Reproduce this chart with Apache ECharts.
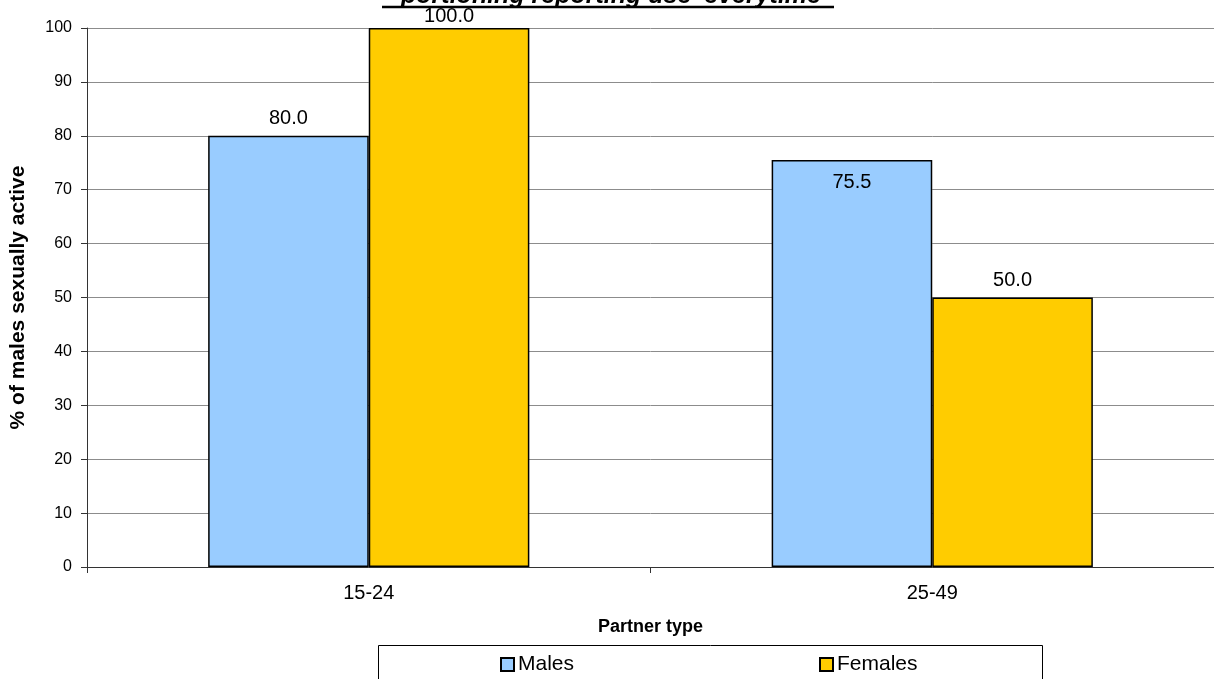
<!DOCTYPE html>
<html><head><meta charset="utf-8">
<script src="https://cdn.jsdelivr.net/npm/echarts@6/dist/echarts.min.js"></script>
<style>html,body{margin:0;padding:0;background:#fff}#c{width:1214px;height:679px}</style>
</head><body><div id="c"></div>
<script>
const titleText = "portioning reporting use 'everytime'";
const categories = ['15-24', '25-49'];
const males = [80.0, 75.5];
const females = [100.0, 50.0];
const yTicks = [0, 10, 20, 30, 40, 50, 60, 70, 80, 90, 100];

const F = 'Liberation Sans, Arial, sans-serif';
const chart = echarts.init(document.getElementById('c'), null, {renderer: 'canvas'});
const lbl = {show: true, position: 'top', distance: 7, color: '#000', fontFamily: F, fontSize: 20,
  formatter: p => p.value.toFixed(1)};
const legendCommon = {top: 654, itemWidth: 13, itemHeight: 13, icon: 'rect', padding: 0,
  textStyle: {fontFamily: F, fontSize: 21, color: '#000', padding: [0, 0, 0, -1]}};
chart.setOption({
  animation: false,
  backgroundColor: '#fff',
  grid: {left: 87, right: 0, top: 28, bottom: 112, containLabel: false, outerBoundsMode: 'none'},
  legend: [
    Object.assign({data: ['Males'], left: 500}, legendCommon),
    Object.assign({data: ['Females'], left: 819}, legendCommon)
  ],
  graphic: [
    {type: 'rect', shape: {x: 378.5, y: 645.5, width: 664, height: 60}, style: {fill: 'none', stroke: '#000', lineWidth: 1}, z: -1},
    {type: 'text', x: 614, y: 9, style: {text: titleText, align: 'center', verticalAlign: 'bottom', font: 'italic bold 25px ' + F, fill: '#000'}},
    {type: 'line', shape: {x1: 382, y1: 7, x2: 834, y2: 7}, style: {stroke: '#000', lineWidth: 2.5}}
  ],
  xAxis: {
    type: 'category', data: categories,
    name: 'Partner type', nameLocation: 'middle', nameGap: 51,
    nameTextStyle: {fontFamily: F, fontSize: 18, fontWeight: 'bold', color: '#000'},
    axisLine: {lineStyle: {color: '#333', width: 1}},
    axisTick: {show: true, length: 6, lineStyle: {color: '#333'}},
    axisLabel: {fontFamily: F, fontSize: 20, color: '#000', margin: 16},
    splitLine: {show: false}
  },
  yAxis: {
    type: 'value', min: yTicks[0], max: yTicks[yTicks.length - 1], interval: 10,
    name: '% of males sexually active', nameLocation: 'middle', nameGap: 58,
    nameTextStyle: {fontFamily: F, fontSize: 21, fontWeight: 'bold', color: '#000'},
    axisLine: {show: true, lineStyle: {color: '#333', width: 1}},
    axisTick: {show: true, length: 6, lineStyle: {color: '#333'}},
    axisLabel: {fontFamily: F, fontSize: 16, color: '#000', margin: 15},
    splitLine: {lineStyle: {color: '#8c8c8c', width: 1}}
  },
  series: [
    {name: 'Males', type: 'bar', barGap: '0%', barCategoryGap: '43%',
     itemStyle: {color: '#99ccff', borderColor: '#000', borderWidth: 1.5},
     label: lbl,
     data: males.map((v, i) => i === 1 ? {value: v, label: {position: 'insideTop', distance: 12}} : v)},
    {name: 'Females', type: 'bar', barGap: '0%', barCategoryGap: '43%',
     itemStyle: {color: '#ffcc00', borderColor: '#000', borderWidth: 1.5},
     label: lbl,
     data: females.map((v, i) => i === 0 ? {value: v, label: {distance: 2}} : v)}
  ]
});
</script></body></html>
